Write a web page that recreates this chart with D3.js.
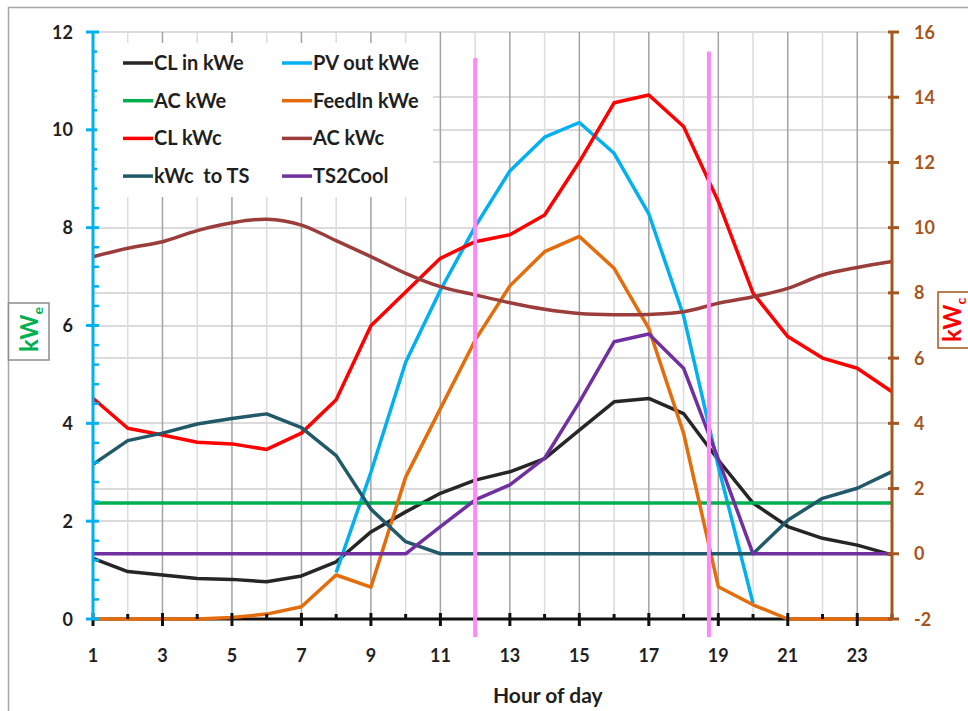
<!DOCTYPE html>
<html>
<head>
<meta charset="utf-8">
<script src="https://cdn.jsdelivr.net/npm/d3@7"></script>
<style>
  body { margin: 0; background: #fff; }
  svg { display: block; font-family: Lato, "Open Sans", sans-serif; font-weight: 700; }
</style>
</head>
<body>
<svg id="chart" width="968" height="711"></svg>
<script>
// Hourly profile, values
const hours = [1, 2, 3, 4, 5, 6, 7, 8, 9, 10, 11, 12, 13, 14, 15, 16, 17, 18, 19, 20, 21, 22, 23, 24];

// primary axis (kWe)
const clInKWe   = [1.24, 0.97, 0.90, 0.83, 0.81, 0.76, 0.88, 1.17, 1.78, 2.19, 2.57, 2.84, 3.01, 3.28, 3.86, 4.44, 4.51, 4.20, 3.25, 2.37, 1.89, 1.65, 1.51, 1.31];
const pvOutKWe  = [null, null, null, null, null, null, null, 0.95, 3.0, 5.25, 6.72, 8.02, 9.16, 9.85, 10.15, 9.52, 8.28, 6.2, 3.12, 0.32, null, null, null, null];
const acKWe     = [2.37, 2.37, 2.37, 2.37, 2.37, 2.37, 2.37, 2.37, 2.37, 2.37, 2.37, 2.37, 2.37, 2.37, 2.37, 2.37, 2.37, 2.37, 2.37, 2.37, 2.37, 2.37, 2.37, 2.37];
const feedInKWe = [0, 0, 0, 0, 0.03, 0.1, 0.25, 0.9, 0.65, 2.9, 4.3, 5.7, 6.81, 7.51, 7.82, 7.17, 5.94, 3.8, 0.66, 0.29, 0, 0, 0, 0];

// secondary axis (kWc)
const clKWc     = [4.77, 3.85, 3.64, 3.42, 3.37, 3.2, 3.7, 4.72, 6.99, 8.03, 9.06, 9.57, 9.78, 10.39, 12.02, 13.83, 14.07, 13.1, 10.8, 7.99, 6.66, 6.0, 5.69, 4.97];
const acKWc     = [9.11, 9.37, 9.57, 9.91, 10.15, 10.26, 10.08, 9.6, 9.11, 8.6, 8.19, 7.94, 7.7, 7.5, 7.37, 7.33, 7.34, 7.42, 7.68, 7.88, 8.14, 8.55, 8.78, 8.96];
const kWcToTS   = [2.74, 3.47, 3.7, 3.98, 4.15, 4.29, 3.87, 3.01, 1.37, 0.37, 0, 0, 0, 0, 0, 0, 0, 0, 0, 0, 1.03, 1.7, 2.01, 2.52];
const ts2Cool   = [0, 0, 0, 0, 0, 0, 0, 0, 0, 0, 0.83, 1.65, 2.11, 2.93, 4.65, 6.5, 6.74, 5.69, 2.9, 0, 0, 0, 0, 0];

// axes
const leftTicks  = [0, 2, 4, 6, 8, 10, 12];
const leftMinor  = [0.4, 0.8, 1.2, 1.6, 2.4, 2.8, 3.2, 3.6, 4.4, 4.8, 5.2, 5.6, 6.4, 6.8, 7.2, 7.6, 8.4, 8.8, 9.2, 9.6, 10.4, 10.8, 11.2, 11.6];
const rightTicks = [-2, 0, 2, 4, 6, 8, 10, 12, 14, 16];
const xLabels    = [1, 3, 5, 7, 9, 11, 13, 15, 17, 19, 21, 23];

// pink marker lines: hour, top (kWc axis value)
const markerHours = [12, 18.73];
const markerTops  = [15.2, 15.4];
const markerBottom = -2.55;

const series = [
  { name: 'CL in kWe',   values: clInKWe,   axis: 'L', color: '#262626' },
  { name: 'PV out kWe',  values: pvOutKWe,  axis: 'L', color: '#00b0f0' },
  { name: 'AC kWe',      values: acKWe,     axis: 'L', color: '#00b050' },
  { name: 'FeedIn kWe',  values: feedInKWe, axis: 'L', color: '#e46c0a' },
  { name: 'CL kWc',      values: clKWc,     axis: 'R', color: '#ff0000' },
  { name: 'AC kWc',      values: acKWc,     axis: 'R', color: '#9b3d3a', smooth: true },
  { name: 'kWc  to TS',  values: kWcToTS,   axis: 'R', color: '#215968' },
  { name: 'TS2Cool',     values: ts2Cool,   axis: 'R', color: '#7030a0' }
];

const svg = d3.select('#chart');
const x  = d3.scaleLinear().domain([1, 24]).range([93, 892]);
const yL = d3.scaleLinear().domain([0, 12]).range([619, 32]);
const yR = d3.scaleLinear().domain([-2, 16]).range([619, 32]);

const brown = '#a5561e';
const labelColor = '#1f1f1f';

// outer frame
svg.append('rect')
  .attr('x', 8.5).attr('y', 7.5).attr('width', 1200).attr('height', 1200)
  .attr('fill', '#fff').attr('stroke', '#a6a6a6').attr('stroke-width', 1.5);

// gridlines
const grid = svg.append('g');
const hGrid = Array.from(new Set([...leftTicks.map(v => Math.round(yL(v))), ...rightTicks.map(v => Math.round(yR(v)))]));
grid.selectAll('line.h').data(hGrid).join('line')
  .attr('x1', x(1)).attr('x2', x(24))
  .attr('y1', d => d).attr('y2', d => d)
  .attr('stroke', '#cfcfcf').attr('stroke-width', 1.5);
grid.selectAll('line.v').data(hours).join('line')
  .attr('x1', d => x(d)).attr('x2', d => x(d))
  .attr('y1', yL(12)).attr('y2', yL(0))
  .attr('stroke', d => d % 2 === 1 ? '#a3a3a3' : '#dcdcdc')
  .attr('stroke-width', 1.5);

// x axis baseline (under the series)
svg.append('line')
  .attr('x1', x(1)).attr('x2', x(24)).attr('y1', yL(0)).attr('y2', yL(0))
  .attr('stroke', '#111').attr('stroke-width', 3);

// series
const plot = svg.append('g');
series.forEach(s => {
  const scale = s.axis === 'L' ? yL : yR;
  const line = d3.line()
    .defined(d => d[1] != null)
    .x(d => x(d[0]))
    .y(d => scale(d[1]))
    .curve(s.smooth ? d3.curveCatmullRom.alpha(0) : d3.curveLinear);
  plot.append('path')
    .datum(hours.map((h, i) => [h, s.values[i]]))
    .attr('d', line)
    .attr('fill', 'none')
    .attr('stroke', s.color)
    .attr('stroke-width', 3.5)
    .attr('stroke-linejoin', 'round');
});

// x axis ticks
svg.append('g').selectAll('line').data(hours).join('line')
  .attr('x1', d => x(d)).attr('x2', d => x(d))
  .attr('y1', d => d % 2 === 1 ? yL(0) - 6 : yL(0) - 5)
  .attr('y2', d => d % 2 === 1 ? yL(0) + 7 : yL(0))
  .attr('stroke', '#111').attr('stroke-width', 3);
svg.append('g').selectAll('text').data(xLabels).join('text')
  .attr('x', d => x(d)).attr('y', yL(0) + 43)
  .attr('text-anchor', 'middle').attr('font-size', 18).attr('fill', labelColor)
  .text(d => d);
svg.append('text')
  .attr('x', 493).attr('y', 703)
  .attr('font-size', 21).attr('fill', labelColor)
  .text('Hour of day');

// left axis
const leftAxis = svg.append('g');
leftAxis.append('line')
  .attr('x1', x(1)).attr('x2', x(1)).attr('y1', yL(12)).attr('y2', yL(0))
  .attr('stroke', '#00b0f0').attr('stroke-width', 3);
leftAxis.selectAll('line.major').data(leftTicks).join('line')
  .attr('x1', x(1) - 7).attr('x2', x(1) + 6)
  .attr('y1', d => yL(d)).attr('y2', d => yL(d))
  .attr('stroke', '#00b0f0').attr('stroke-width', 3);
leftAxis.selectAll('line.minor').data(leftMinor).join('line')
  .attr('x1', x(1)).attr('x2', x(1) + 6)
  .attr('y1', d => yL(d)).attr('y2', d => yL(d))
  .attr('stroke', '#00b0f0').attr('stroke-width', 2.5);
leftAxis.selectAll('text').data(leftTicks).join('text')
  .attr('x', 73).attr('y', d => yL(d) + 6.5)
  .attr('text-anchor', 'end').attr('font-size', 18).attr('fill', labelColor)
  .text(d => d);

// right axis
const rightAxis = svg.append('g');
rightAxis.append('line')
  .attr('x1', x(24)).attr('x2', x(24)).attr('y1', yR(16)).attr('y2', yR(-2))
  .attr('stroke', brown).attr('stroke-width', 3);
rightAxis.selectAll('line.major').data(rightTicks).join('line')
  .attr('x1', x(24) - 4).attr('x2', x(24) + 7)
  .attr('y1', d => yR(d)).attr('y2', d => yR(d))
  .attr('stroke', brown).attr('stroke-width', 3);
rightAxis.selectAll('text').data(rightTicks).join('text')
  .attr('x', 914).attr('y', d => yR(d) + 6.5)
  .attr('font-size', 18).attr('fill', brown)
  .text(d => d);

// pink markers
svg.append('g').selectAll('line').data(markerHours).join('line')
  .attr('x1', d => x(d)).attr('x2', d => x(d))
  .attr('y1', (d, i) => yR(markerTops[i])).attr('y2', yR(markerBottom))
  .attr('stroke', '#ff8af5').attr('stroke-width', 4);

// legend
const legend = svg.append('g');
legend.append('rect')
  .attr('x', 97).attr('y', 43).attr('width', 336).attr('height', 154)
  .attr('fill', '#fff');
const items = legend.selectAll('g').data(series).join('g')
  .attr('transform', (d, i) => `translate(${i % 2 === 0 ? 123 : 282},${63 + Math.floor(i / 2) * 37.7})`);
items.append('line')
  .attr('x1', 0).attr('x2', 30).attr('y1', 0).attr('y2', 0)
  .attr('stroke', d => d.color).attr('stroke-width', 3.5);
items.append('text')
  .attr('x', 31).attr('y', 7)
  .attr('font-size', 20).attr('fill', labelColor)
  .style('white-space', 'pre')
  .text(d => d.name);

// axis title boxes
svg.append('rect')
  .attr('x', 8.5).attr('y', 303).attr('width', 40.5).attr('height', 57)
  .attr('fill', '#fff').attr('stroke', '#8c8c8c').attr('stroke-width', 1.5);
const tl = svg.append('text')
  .attr('transform', 'translate(38,352) rotate(-90)')
  .attr('font-size', 24).attr('fill', '#00b050');
tl.append('tspan').text('kW');
tl.append('tspan').attr('font-size', 14).attr('dy', 5).text('e');

svg.append('rect')
  .attr('x', 938).attr('y', 292).attr('width', 60).attr('height', 56)
  .attr('fill', '#fff').attr('stroke', brown).attr('stroke-width', 1.5);
const tr = svg.append('text')
  .attr('transform', 'translate(961,342) rotate(-90)')
  .attr('font-size', 24).attr('fill', '#ff0000');
tr.append('tspan').text('kW');
tr.append('tspan').attr('font-size', 14).attr('dy', 5).text('c');
</script>
</body>
</html>
